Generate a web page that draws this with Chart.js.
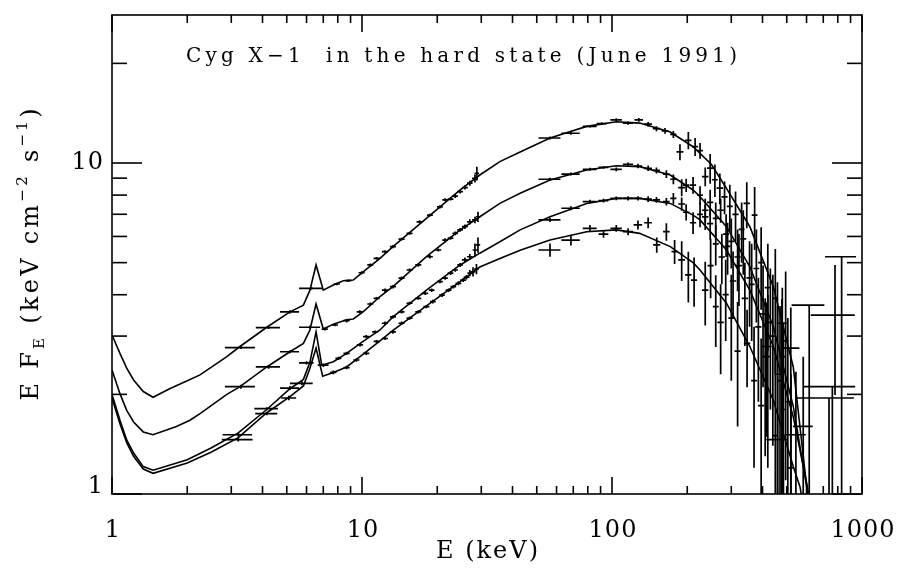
<!DOCTYPE html>
<html>
<head>
<meta charset="utf-8">
<title>Cyg X-1 hard state spectrum</title>
<script src="https://cdn.jsdelivr.net/npm/chart.js@4.4.0/dist/chart.umd.min.js"></script>
<style>
  html, body { margin: 0; padding: 0; background: #fff; }
  #wrap { width: 901px; height: 568px; }
</style>
</head>
<body>
<div id="wrap"><canvas id="chart" width="901" height="568"></canvas></div>
<script>
// model curves, E (keV) and E F_E
const curveA_E = [1.0, 1.076, 1.145, 1.22, 1.334, 1.46, 1.7, 2.0, 2.25, 2.88, 3.25, 4.16, 5.15, 5.83, 6.19, 6.55, 7.0, 7.68, 8.42, 9.23, 10.1, 11.8, 13.3, 18.1, 24.7, 29.6, 35.6, 42.9, 56.5, 79.2, 104, 129, 171, 211, 250, 287, 356, 442, 531, 601, 650];
const curveA_F = [3.02, 2.66, 2.40, 2.21, 2.04, 1.96, 2.08, 2.2, 2.29, 2.60, 2.79, 3.19, 3.55, 3.72, 4.13, 4.92, 4.13, 4.28, 4.41, 4.43, 4.69, 5.15, 5.59, 6.80, 8.29, 9.20, 10.1, 10.8, 11.9, 12.9, 13.33, 13.2, 12.4, 11.2, 9.9, 8.38, 6.42, 4.23, 2.42, 1.05, 0.55];
const curveB_E = [1.0, 1.076, 1.145, 1.22, 1.334, 1.46, 1.81, 2.05, 2.25, 2.88, 3.25, 4.16, 5.15, 5.83, 6.19, 6.55, 7.0, 7.68, 8.68, 9.23, 10.1, 11.8, 13.3, 18.1, 24.7, 29.6, 35.6, 42.9, 56.5, 79.2, 104, 129, 171, 211, 225, 287, 356, 442, 531, 601, 650];
const curveB_F = [2.37, 2.01, 1.79, 1.65, 1.54, 1.51, 1.60, 1.67, 1.75, 2.0, 2.11, 2.42, 2.69, 2.85, 3.13, 3.75, 3.15, 3.26, 3.36, 3.38, 3.55, 3.95, 4.23, 5.21, 6.28, 6.88, 7.55, 8.10, 8.89, 9.52, 9.81, 9.75, 9.20, 8.29, 7.91, 6.42, 4.86, 3.20, 1.84, 1.05, 0.6];
const curveC_E = [1.0, 1.076, 1.145, 1.22, 1.334, 1.46, 2.0, 2.5, 3.2, 4.16, 5.15, 5.83, 6.19, 6.55, 6.9, 7.68, 8.68, 10.1, 11.8, 13.3, 18.1, 24.7, 29.6, 35.6, 42.9, 56.5, 79.2, 104, 129, 171, 211, 225, 287, 356, 442, 531, 605, 650];
const curveC_F = [2.0, 1.67, 1.457, 1.33, 1.21, 1.18, 1.27, 1.38, 1.53, 1.80, 2.08, 2.22, 2.5, 3.09, 2.45, 2.51, 2.66, 2.89, 3.13, 3.43, 4.13, 4.92, 5.34, 5.78, 6.28, 6.88, 7.55, 7.82, 7.82, 7.55, 6.96, 6.73, 5.46, 4.13, 2.79, 1.71, 1.05, 0.7];
const curveD_E = [1.0, 1.076, 1.145, 1.22, 1.334, 1.46, 2.0, 2.5, 3.2, 4.16, 5.15, 5.83, 6.19, 6.55, 6.96, 7.68, 8.68, 9.82, 11.8, 13.3, 18.1, 24.7, 29.6, 35.6, 42.9, 56.5, 79.2, 104, 129, 171, 211, 225, 287, 356, 442, 531, 565, 620];
const curveD_F = [1.95, 1.63, 1.43, 1.30, 1.19, 1.155, 1.24, 1.34, 1.48, 1.76, 1.97, 2.12, 2.4, 2.76, 2.27, 2.33, 2.42, 2.6, 2.9, 3.12, 3.7, 4.38, 4.85, 5.15, 5.45, 5.85, 6.2, 6.28, 6.13, 5.59, 5.0, 4.75, 3.77, 2.79, 1.92, 1.21, 1.05, 0.7];

// data points: [E, dE, F, dF]
const specA = [
  [3.28, 0.45, 2.77, 0.03], [4.23, 0.47, 3.18, 0.03], [5.15, 0.45, 3.55, 0.04], [6.28, 0.68, 4.18, 0.04],
  [7.93, 0.22, 4.31, 0.04], [8.82, 0.25, 4.41, 0.04], [9.97, 0.28, 4.66, 0.05], [10.8, 0.3, 4.92, 0.05],
  [11.45, 0.32, 5.15, 0.05], [12.36, 0.35, 5.40, 0.05], [13.3, 0.37, 5.59, 0.06], [14.4, 0.4, 5.89, 0.06],
  [15.5, 0.43, 6.13, 0.06], [17.0, 0.47, 6.64, 0.07], [18.7, 0.5, 6.96, 0.07], [20.5, 0.55, 7.37, 0.08],
  [21.5, 0.55, 7.74, 0.08], [22.6, 0.6, 7.78, 0.08], [23.6, 0.6, 7.94, 0.1], [24.7, 0.65, 8.19, 0.1],
  [25.8, 0.7, 8.43, 0.12], [27.0, 0.7, 8.69, 0.15], [28.3, 0.75, 8.98, 0.25], [28.8, 0.6, 9.3, 0.45],
  [56.5, 5.7, 11.9, 0.12], [68.5, 5.8, 12.3, 0.12], [81.6, 5.2, 12.9, 0.12], [91, 4.2, 13.16, 0.12],
  [104, 5.5, 13.5, 0.15], [116, 5.5, 13.2, 0.15], [128, 5, 13.5, 0.18], [139.5, 5, 13.1, 0.2],
  [150.6, 5, 12.7, 0.22], [163, 5, 12.5, 0.25], [176, 5, 12.2, 0.3],
  [187, 6, 10.8, 0.6], [202, 6, 11.7, 0.7], [215, 6, 11.2, 0.7], [225, 6, 10.9, 0.6], [236, 7, 9.1, 0.6],
  [247, 7, 9.65, 1.0], [258, 7, 8.9, 1.0], [270, 8, 8.4, 0.9], [282, 8, 7.9, 0.9], [296, 8, 7.4, 1.2],
  [312, 9, 7.0, 1.2], [330, 9, 6.3, 1.3], [346, 10, 7.55, 1.2], [372, 10, 6.96, 1.5], [395, 11, 5.0, 1.4],
  [420, 12, 4.2, 1.5], [450, 12, 3.9, 1.6], [480, 13, 2.6, 1.6]
];
const specB = [
  [3.28, 0.45, 2.11, 0.03], [4.23, 0.47, 2.42, 0.03], [5.15, 0.45, 2.69, 0.03], [6.2, 0.6, 3.19, 0.04],
  [7.1, 0.2, 3.15, 0.03], [7.8, 0.22, 3.24, 0.03], [8.68, 0.25, 3.34, 0.04], [9.8, 0.28, 3.55, 0.04],
  [10.8, 0.3, 3.75, 0.04], [11.45, 0.32, 3.90, 0.04], [12.36, 0.35, 4.13, 0.05], [13.3, 0.37, 4.23, 0.05],
  [14.4, 0.4, 4.49, 0.05], [15.5, 0.43, 4.75, 0.05], [16.8, 0.47, 4.92, 0.06], [18.7, 0.5, 5.21, 0.06],
  [20.2, 0.55, 5.46, 0.06], [21.5, 0.55, 5.85, 0.07], [22.6, 0.6, 5.93, 0.07], [23.6, 0.6, 6.13, 0.08],
  [24.7, 0.65, 6.28, 0.08], [25.8, 0.7, 6.42, 0.1], [27.0, 0.7, 6.64, 0.12], [28.3, 0.75, 6.73, 0.15],
  [29.1, 0.6, 6.88, 0.25],
  [56.5, 5.7, 8.93, 0.1], [68.5, 5.8, 9.26, 0.1], [81.6, 5.2, 9.57, 0.1], [92.5, 4.2, 9.70, 0.1],
  [104, 5.5, 9.57, 0.12], [116, 5.5, 9.91, 0.12], [127, 5, 9.79, 0.15], [139.5, 5, 9.64, 0.18],
  [150.6, 5, 9.5, 0.2], [165, 5, 9.26, 0.25], [176, 5, 8.93, 0.3],
  [190, 6, 8.43, 0.5], [198, 6, 8.57, 0.4], [211, 6, 8.57, 0.5], [225, 6, 8.0, 0.5], [236, 7, 7.2, 0.6],
  [247, 7, 7.6, 0.7], [260, 7, 6.8, 0.8], [272, 8, 7.2, 0.6], [286, 8, 6.1, 0.9], [300, 8, 5.8, 1.0],
  [318, 9, 5.2, 1.1], [335, 9, 5.9, 1.3], [355, 10, 4.5, 1.3], [378, 10, 4.8, 1.5], [402, 11, 3.5, 1.4],
  [430, 12, 3.3, 1.5], [460, 12, 2.3, 1.4], [495, 13, 2.9, 1.8]
];
const specC = [
  [3.2, 0.43, 1.51, 0.02], [4.16, 0.45, 1.81, 0.02], [5.15, 0.45, 2.09, 0.03], [6.0, 0.4, 2.49, 0.03],
  [7.0, 0.35, 2.45, 0.03],
  [8.05, 0.22, 2.57, 0.03], [8.68, 0.25, 2.66, 0.03], [9.82, 0.28, 2.82, 0.03], [10.4, 0.3, 2.99, 0.03],
  [11.3, 0.32, 3.09, 0.03], [12.36, 0.35, 3.28, 0.04], [13.3, 0.37, 3.43, 0.04], [14.4, 0.4, 3.55, 0.04],
  [15.5, 0.43, 3.77, 0.04], [16.8, 0.47, 3.90, 0.04], [17.9, 0.5, 4.04, 0.05], [19.0, 0.5, 4.13, 0.05],
  [20.5, 0.55, 4.38, 0.05], [21.5, 0.55, 4.49, 0.05], [22.6, 0.6, 4.65, 0.06], [23.6, 0.6, 4.75, 0.06],
  [24.7, 0.65, 4.92, 0.07], [25.8, 0.7, 5.10, 0.08], [27.0, 0.7, 5.21, 0.1], [28.3, 0.6, 5.46, 0.25],
  [29.1, 0.6, 5.66, 0.3],
  [56.5, 5.7, 6.73, 0.1], [68.5, 5.8, 7.30, 0.1], [81.6, 5.2, 7.64, 0.1], [92.5, 4.2, 7.70, 0.1],
  [104, 5.5, 7.82, 0.1], [116, 5.5, 7.82, 0.12], [127, 5, 7.82, 0.12], [139.5, 5, 7.78, 0.15],
  [150.6, 5, 7.74, 0.15], [165, 5, 7.64, 0.2], [176, 5, 7.82, 0.3], [190, 6, 7.52, 0.35],
  [198, 6, 7.1, 0.4], [211, 6, 6.6, 0.5], [225, 6, 7.0, 0.6], [236, 7, 6.87, 0.6], [247, 7, 6.56, 0.7],
  [260, 7, 5.7, 0.8], [275, 8, 5.2, 0.9], [290, 8, 5.6, 1.0], [305, 9, 4.4, 1.0], [322, 9, 4.9, 1.2],
  [340, 10, 3.9, 1.1], [362, 10, 4.3, 1.4], [385, 11, 3.2, 1.3], [410, 11, 2.6, 1.3], [440, 12, 3.0, 1.6],
  [470, 12, 2.2, 1.5], [505, 13, 1.9, 1.5]
];
const specD = [
  [3.2, 0.45, 1.46, 0.02], [4.16, 0.42, 1.75, 0.02], [5.1, 0.35, 1.95, 0.03], [5.75, 0.6, 2.16, 0.03],
  [7.68, 0.22, 2.33, 0.03], [8.68, 0.25, 2.41, 0.03], [9.5, 0.27, 2.54, 0.03], [10.4, 0.3, 2.66, 0.03],
  [11.45, 0.32, 2.89, 0.03], [12.36, 0.35, 2.95, 0.03], [13.3, 0.37, 3.09, 0.04], [14.4, 0.4, 3.28, 0.04],
  [15.5, 0.43, 3.40, 0.04], [16.8, 0.47, 3.55, 0.04], [18.1, 0.5, 3.68, 0.04], [19.2, 0.5, 3.81, 0.05],
  [20.9, 0.55, 3.99, 0.05], [22.2, 0.6, 4.13, 0.05], [23.2, 0.6, 4.23, 0.05], [24.3, 0.65, 4.33, 0.06],
  [25.4, 0.7, 4.43, 0.06], [26.2, 0.7, 4.52, 0.07], [27.0, 0.6, 4.65, 0.1], [27.8, 0.6, 4.69, 0.15],
  [28.7, 0.6, 4.78, 0.17],
  [56.5, 5.7, 5.46, 0.25], [68.5, 5.8, 5.85, 0.22], [81.6, 5.2, 6.35, 0.15], [92.5, 4.2, 6.1, 0.15],
  [104, 5.5, 6.35, 0.15], [116, 5.5, 6.2, 0.15], [127, 5, 6.5, 0.2], [139.5, 5, 6.6, 0.25],
  [151, 5, 5.66, 0.3], [165, 5, 6.2, 0.38], [178, 5, 5.4, 0.45], [190, 6, 5.1, 0.7],
  [202, 6, 4.59, 0.8], [213, 6, 4.43, 0.75], [236, 7, 4.13, 0.9], [248, 7, 4.9, 1.0], [260, 7, 3.68, 0.9],
  [272, 8, 3.3, 1.0], [285, 8, 4.0, 1.1], [300, 8, 3.4, 1.2], [318, 9, 2.7, 1.1], [347, 10, 2.85, 0.75],
  [370, 10, 2.2, 1.0], [395, 11, 1.85, 1.1], [420, 12, 2.6, 1.4], [450, 12, 1.5, 1.2], [485, 13, 1.8, 1.5],
  [520, 14, 1.2, 1.1]
];
// broad high-energy bins: [E, dE, F, dF below, dF above]
const wideBins = [
  [415, 20, 2.79, 1.3, 1.0], [459, 45, 1.46, 1.4, 2.9], [478, 22, 3.28, 3.1, 0.6],
  [519, 43, 2.76, 2.5, 0.9], [544, 52, 1.51, 1.5, 0.83], [582, 53, 1.60, 1.5, 1.0],
  [615, 92, 3.72, 3.5, 0], [738, 190, 1.95, 1.9, 0], [761, 178, 2.11, 2.0, 0],
  [780, 156, 3.47, 1.48, 1.45], [829, 118, 5.21, 5.0, 0]
];

// axis ticks
const xMajor = [1, 10, 100, 1000];
const xMinor = [2, 3, 4, 5, 6, 7, 8, 9, 20, 30, 40, 50, 60, 70, 80, 90, 200, 300, 400, 500, 600, 700, 800, 900];
const xTickLabels = ["1", "10", "100", "1000"];
const yMajor = [1, 10];
const yMinor = [2, 3, 4, 5, 6, 7, 8, 9, 20];
const yTickLabels = ["1", "10"];

const FONT = '"DejaVu Serif", "Liberation Serif", serif';

function curveSet(es, fs) {
  return {
    type: "line",
    data: es.map((e, i) => ({ x: e, y: fs[i] })),
    borderColor: "#000",
    borderWidth: 1.6,
    pointRadius: 0,
    tension: 0,
    fill: false,
  };
}
function pointSet(rows) {
  return {
    type: "scatter",
    data: rows.map((r) => ({ x: r[0], y: r[2] })),
    errors: rows,
    pointRadius: 0,
    showLine: false,
  };
}

const errorBarPlugin = {
  id: "errorBars",
  afterDatasetsDraw(chart) {
    const { ctx, chartArea: a, scales: { x, y } } = chart;
    ctx.save();
    ctx.beginPath();
    ctx.rect(a.left, a.top, a.right - a.left, a.bottom - a.top);
    ctx.clip();
    ctx.strokeStyle = "#000";
    ctx.lineWidth = 1.7;
    chart.data.datasets.forEach((ds) => {
      if (!ds.errors) return;
      ds.errors.forEach((r) => {
        const e = r[0], de = r[1], f = r[2];
        const dlo = r[3], dhi = r.length > 4 ? r[4] : r[3];
        const px = x.getPixelForValue(e);
        const py = y.getPixelForValue(f);
        const x0 = x.getPixelForValue(e - de);
        const x1 = x.getPixelForValue(e + de);
        const y0 = f - dlo > 0.05 ? y.getPixelForValue(f - dlo) : a.bottom + 10;
        const y1 = y.getPixelForValue(f + dhi);
        ctx.beginPath();
        ctx.moveTo(x0, py);
        ctx.lineTo(x1, py);
        ctx.moveTo(px, y0);
        ctx.lineTo(px, y1);
        ctx.stroke();
      });
    });
    ctx.restore();
  },
};

function spacedText(ctx, text, left, y, width) {
  ctx.letterSpacing = "0px";
  const n = [...text].length;
  const w = ctx.measureText(text).width;
  const s = n > 1 ? (width - w) / (n - 1) : 0;
  ctx.letterSpacing = s + "px";
  ctx.textAlign = "left";
  ctx.fillText(text, left, y);
  ctx.letterSpacing = "0px";
}

const framePlugin = {
  id: "frame",
  afterDraw(chart) {
    const { ctx, chartArea: a, scales: { x, y } } = chart;
    ctx.save();
    ctx.strokeStyle = "#000";
    ctx.lineWidth = 1.6;
    ctx.strokeRect(a.left, a.top, a.right - a.left, a.bottom - a.top);
    const seg = (x0, y0, x1, y1) => { ctx.beginPath(); ctx.moveTo(x0, y0); ctx.lineTo(x1, y1); ctx.stroke(); };
    xMinor.forEach((v) => { const p = x.getPixelForValue(v); seg(p, a.bottom, p, a.bottom - 8); seg(p, a.top, p, a.top + 8); });
    xMajor.forEach((v) => { const p = x.getPixelForValue(v); seg(p, a.bottom, p, a.bottom - 17); seg(p, a.top, p, a.top + 17); });
    yMinor.forEach((v) => { const p = y.getPixelForValue(v); seg(a.left, p, a.left + 15, p); seg(a.right, p, a.right - 15, p); });
    yMajor.forEach((v) => { const p = y.getPixelForValue(v); seg(a.left, p, a.left + 30, p); seg(a.right, p, a.right - 30, p); });

    ctx.fillStyle = "#000";
    ctx.font = "24px " + FONT;
    ctx.textBaseline = "middle";
    ctx.textAlign = "center";
    ctx.letterSpacing = "1px";
    xMajor.forEach((v, i) => ctx.fillText(xTickLabels[i], x.getPixelForValue(v) + 1, 531));
    ctx.textAlign = "right";
    yMajor.forEach((v, i) => ctx.fillText(yTickLabels[i], 104, Math.min(y.getPixelForValue(v), a.bottom - 7)));
    ctx.letterSpacing = "0px";

    // x title
    ctx.font = "24px " + FONT;
    spacedText(ctx, "E (keV)", 436, 552, 102);

    // inner title
    ctx.font = "20px " + FONT;
    spacedText(ctx, "Cyg X\u22121  in the hard state (June 1991)", 186, 57, 551);

    // y title (rotated)
    const pieces = [["E F", 24, 0], ["E", 15, 6], [" (keV cm", 24, 0], ["\u22122", 15, -11], [" s", 24, 0], ["\u22121", 15, -11], [")", 24, 0]];
    let nat = 0, nchar = 0;
    pieces.forEach((p) => { ctx.font = p[1] + "px " + FONT; nat += ctx.measureText(p[0]).width; nchar += [...p[0]].length; });
    const sp = (292 - nat) / (nchar - 1);
    ctx.save();
    ctx.translate(29, (a.top + a.bottom) / 2);
    ctx.rotate(-Math.PI / 2);
    ctx.textBaseline = "alphabetic";
    ctx.textAlign = "left";
    ctx.letterSpacing = sp + "px";
    let cx = -146;
    pieces.forEach((p) => {
      ctx.font = p[1] + "px " + FONT;
      ctx.fillText(p[0], cx, 9 + p[2]);
      cx += ctx.measureText(p[0]).width;
    });
    ctx.restore();
    ctx.restore();
  },
};

new Chart(document.getElementById("chart"), {
  type: "scatter",
  data: {
    datasets: [
      curveSet(curveA_E, curveA_F),
      curveSet(curveB_E, curveB_F),
      curveSet(curveC_E, curveC_F),
      curveSet(curveD_E, curveD_F),
      pointSet(specA),
      pointSet(specB),
      pointSet(specC),
      pointSet(specD),
      pointSet(wideBins),
    ],
  },
  options: {
    responsive: false,
    animation: false,
    devicePixelRatio: 1,
    layout: { padding: { left: 112, right: 39, top: 15, bottom: 74 } },
    scales: {
      x: { type: "logarithmic", min: 1, max: 1000, display: false },
      y: { type: "logarithmic", min: 1, max: 28, display: false },
    },
    plugins: { legend: { display: false }, tooltip: { enabled: false } },
  },
  plugins: [errorBarPlugin, framePlugin],
});
</script>
</body>
</html>
